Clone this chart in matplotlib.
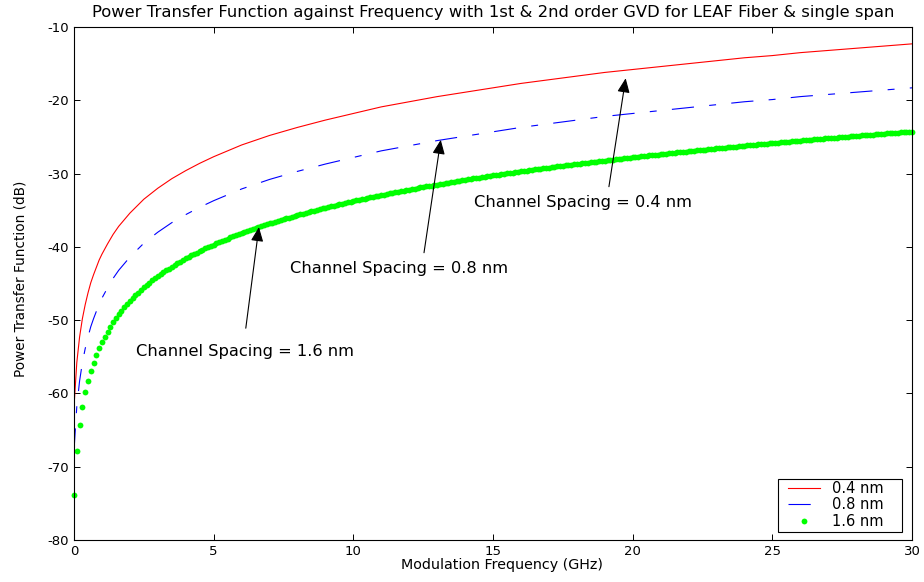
import numpy as np
import matplotlib
matplotlib.use("Agg")
import matplotlib.pyplot as plt
from matplotlib.patches import Rectangle

plt.rcParams['font.family'] = 'DejaVu Sans'
plt.rcParams['axes.unicode_minus'] = False
plt.rcParams['lines.scale_dashes'] = False

# 1.6 nm spacing, sampled every 0.1 GHz from 0 to 30 GHz
freq_dots = np.round(np.arange(301) * 0.1, 1)
ptf_16nm = [
    -73.84, -67.82, -64.30, -61.80, -59.86, -58.28, -56.94, -55.78, -54.76, -53.84,
    -53.01, -52.26, -51.56, -50.92, -50.32, -49.76, -49.23, -48.73, -48.26, -47.82,
    -47.40, -46.99, -46.61, -46.24, -45.88, -45.54, -45.21, -44.90, -44.59, -44.30,
    -44.01, -43.74, -43.47, -43.21, -42.96, -42.71, -42.48, -42.24, -42.02, -41.80,
    -41.58, -41.37, -41.17, -40.97, -40.78, -40.58, -40.40, -40.22, -40.04, -39.86,
    -39.69, -39.52, -39.35, -39.19, -39.03, -38.88, -38.72, -38.57, -38.42, -38.28,
    -38.13, -37.99, -37.85, -37.72, -37.58, -37.45, -37.32, -37.19, -37.06, -36.94,
    -36.81, -36.69, -36.57, -36.46, -36.34, -36.22, -36.11, -36.00, -35.89, -35.78,
    -35.67, -35.56, -35.46, -35.35, -35.25, -35.15, -35.05, -34.95, -34.85, -34.76,
    -34.66, -34.56, -34.47, -34.38, -34.29, -34.19, -34.10, -34.02, -33.93, -33.84,
    -33.75, -33.67, -33.58, -33.50, -33.42, -33.33, -33.25, -33.17, -33.09, -33.01,
    -32.93, -32.86, -32.78, -32.70, -32.63, -32.55, -32.48, -32.40, -32.33, -32.26,
    -32.18, -32.11, -32.04, -31.97, -31.90, -31.83, -31.76, -31.70, -31.63, -31.56,
    -31.50, -31.43, -31.36, -31.30, -31.23, -31.17, -31.11, -31.04, -30.98, -30.92,
    -30.86, -30.79, -30.73, -30.67, -30.61, -30.55, -30.49, -30.43, -30.38, -30.32,
    -30.26, -30.20, -30.15, -30.09, -30.03, -29.98, -29.92, -29.87, -29.81, -29.76,
    -29.70, -29.65, -29.60, -29.54, -29.49, -29.44, -29.39, -29.33, -29.28, -29.23,
    -29.18, -29.13, -29.08, -29.03, -28.98, -28.93, -28.88, -28.83, -28.78, -28.73,
    -28.69, -28.64, -28.59, -28.54, -28.50, -28.45, -28.40, -28.36, -28.31, -28.27,
    -28.22, -28.17, -28.13, -28.08, -28.04, -27.99, -27.95, -27.91, -27.86, -27.82,
    -27.78, -27.73, -27.69, -27.65, -27.61, -27.56, -27.52, -27.48, -27.44, -27.40,
    -27.36, -27.31, -27.27, -27.23, -27.19, -27.15, -27.11, -27.07, -27.03, -26.99,
    -26.95, -26.91, -26.87, -26.84, -26.80, -26.76, -26.72, -26.68, -26.64, -26.61,
    -26.57, -26.53, -26.49, -26.46, -26.42, -26.38, -26.35, -26.31, -26.27, -26.24,
    -26.20, -26.16, -26.13, -26.09, -26.06, -26.02, -25.99, -25.95, -25.92, -25.88,
    -25.85, -25.81, -25.78, -25.74, -25.71, -25.68, -25.64, -25.61, -25.57, -25.54,
    -25.51, -25.47, -25.44, -25.41, -25.38, -25.34, -25.31, -25.28, -25.25, -25.21,
    -25.18, -25.15, -25.12, -25.09, -25.05, -25.02, -24.99, -24.96, -24.93, -24.90,
    -24.87, -24.84, -24.80, -24.77, -24.74, -24.71, -24.68, -24.65, -24.62, -24.59,
    -24.56, -24.53, -24.50, -24.47, -24.44, -24.41, -24.39, -24.36, -24.33, -24.30,
    -24.27,
]

# 0.4 nm and 0.8 nm traces
freq_line = [0, 0.1, 0.2, 0.3, 0.4, 0.5, 0.6, 0.7, 0.8, 0.9, 1.0,
             1.2, 1.4, 1.6, 1.8, 2.0, 2.5, 3.0, 3.5, 4.0, 4.5,
             5, 6, 7, 8, 9, 10, 11, 12, 13, 14, 15, 16, 17, 18, 19, 20,
             21, 22, 23, 24, 25, 26, 27, 28, 29, 30]
ptf_04nm = [-61.8, -55.8, -52.3, -49.8, -47.9, -46.3, -44.9, -43.8, -42.8, -41.8, -41.0,
            -39.6, -38.3, -37.2, -36.3, -35.4, -33.5, -32.0, -30.7, -29.6, -28.6,
            -27.7, -26.1, -24.8, -23.7, -22.7, -21.8, -20.9, -20.2, -19.5, -18.9,
            -18.3, -17.7, -17.2, -16.7, -16.2, -15.8, -15.4, -15.0, -14.6, -14.2,
            -13.9, -13.5, -13.2, -12.9, -12.6, -12.3]
ptf_08nm = [-67.8, -61.8, -58.3, -55.8, -53.9, -52.3, -50.9, -49.8, -48.8, -47.8, -47.0,
            -45.6, -44.3, -43.2, -42.3, -41.4, -39.5, -38.0, -36.7, -35.6, -34.6,
            -33.7, -32.1, -30.8, -29.7, -28.7, -27.8, -26.9, -26.2, -25.5, -24.9,
            -24.3, -23.7, -23.2, -22.7, -22.2, -21.8, -21.4, -21.0, -20.6, -20.2,
            -19.9, -19.5, -19.2, -18.9, -18.6, -18.3]

# label text, text anchor (left, middle), arrow tail, arrow tip
notes = [
    ('Channel Spacing = 0.4 nm', (14.32, -33.96), (19.15, -31.79), (19.75, -17.0)),
    ('Channel Spacing = 0.8 nm', (7.73, -43.02), (12.53, -40.80), (13.13, -25.4)),
    ('Channel Spacing = 1.6 nm', (2.22, -54.30), (6.15, -51.10), (6.62, -37.3)),
]

fig = plt.figure(figsize=(9.24, 5.82), dpi=100)
ax = fig.add_axes([74 / 924, 1 - 540 / 582, 838 / 924, 513 / 582])

ax.plot(freq_line, ptf_04nm, color='#ff0000', lw=0.8, label='0.4 nm')
ax.plot(freq_line, ptf_08nm, color='#0000ff', lw=0.8, dashes=(16, 11, 5, 11), label='0.8 nm')
ax.plot(freq_dots, ptf_16nm, ls='none', marker='o', ms=4.2, mfc='#00ff00', mec='none',
        clip_on=False, label='1.6 nm')

for text, pos, tail, tip in notes:
    ax.text(pos[0], pos[1], text, ha='left', va='center', fontsize=11.7)
    ax.annotate('', xy=tip, xytext=tail,
                arrowprops=dict(arrowstyle='-|>,head_length=0.62,head_width=0.27',
                                color='black', lw=0.8, shrinkA=0, shrinkB=0,
                                mutation_scale=14))

ax.set_xlim(0, 30)
ax.set_ylim(-80, -10)
ax.set_xticks(range(0, 31, 5))
ax.set_yticks(range(-80, -9, 10))
ax.tick_params(direction='in', length=4.5, width=0.7, labelsize=9.5, pad=3.5,
               top=True, right=True)
for sp in ax.spines.values():
    sp.set_linewidth(0.8)

ax.set_title('Power Transfer Function against Frequency with 1st & 2nd order GVD '
             'for LEAF Fiber & single span', fontsize=11.8, pad=7)
ax.set_xlabel('Modulation Frequency (GHz)', fontsize=10.3)
ax.xaxis.set_label_coords(0.511, -0.035)
ax.set_ylabel('Power Transfer Function (dB)', fontsize=9.8)
ax.yaxis.set_label_coords(-0.0549, 0.51)

# legend box drawn separately so its padding can differ left/right and top/bottom
box = Rectangle((704 / 838, 8 / 513), 124 / 838, 53 / 513, transform=ax.transAxes,
                facecolor='white', edgecolor='black', lw=0.8, zorder=4.5)
ax.add_patch(box)
leg = ax.legend(loc='upper left', bbox_to_anchor=(714 / 838, 59 / 513), borderaxespad=0,
                frameon=False, fontsize=10.5, handlelength=2.2, handletextpad=0.8,
                labelspacing=0.1, borderpad=0, numpoints=1)
leg.set_zorder(5)

fig.savefig('out.png', dpi=100)
